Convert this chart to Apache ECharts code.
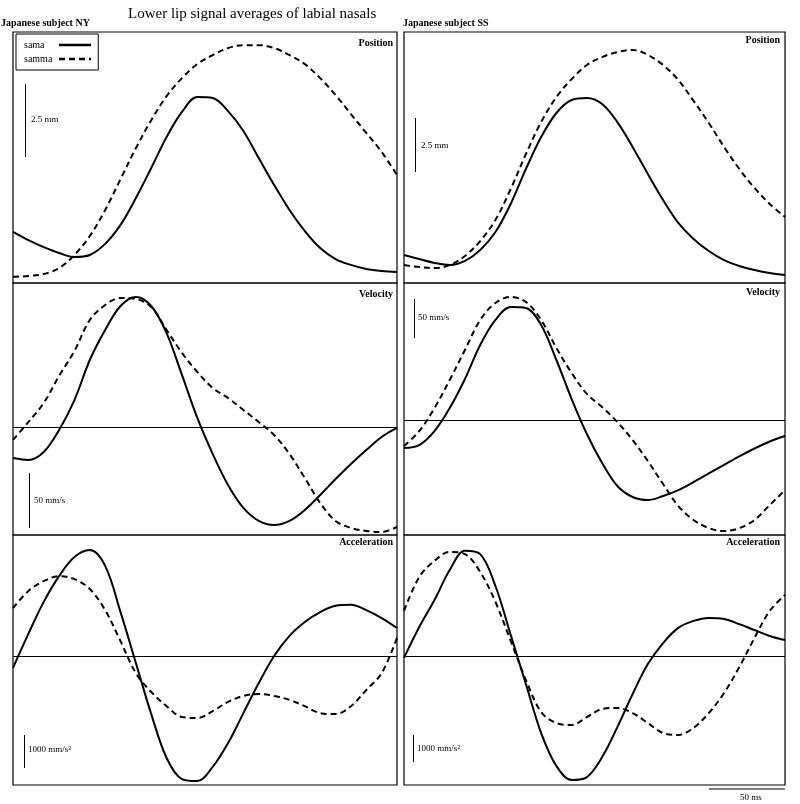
<!DOCTYPE html>
<html>
<head>
<meta charset="utf-8">
<script src="https://cdn.jsdelivr.net/npm/echarts@6/dist/echarts.min.js"></script>
<style>html,body{margin:0;padding:0;background:#fff}#c{width:800px;height:804px}</style>
</head>
<body>
<div id="c"></div>
<script>
// time in ms
const T = [0,10,20,30,40,50,60,70,80,90,100,110,120,130,140,150,160,170,180,190,200,210,220,230,240,250];

// Subject NY
const nyPosSama  = [1.75,1.47,1.23,1.03,0.89,0.96,1.34,1.99,2.91,3.94,5.0,5.86,6.37,6.34,5.89,5.21,4.28,3.36,2.5,1.78,1.2,0.82,0.62,0.48,0.41,0.38];
const nyPosSamma = [0.21,0.24,0.31,0.51,0.96,1.61,2.5,3.56,4.62,5.58,6.4,7.02,7.5,7.81,8.05,8.15,8.15,8.05,7.81,7.5,7.02,6.44,5.79,5.14,4.49,3.7];
const nyVelSama  = [-28.2,-30,-22.7,-2.7,24.5,60.9,88.2,110,118.2,110,85.4,47.3,8.2,-24.5,-52.7,-73.6,-85.4,-89.1,-85.4,-75.4,-61.8,-47.3,-33.6,-20.9,-9.1,-0.9];
const nyVelSamma = [-11.8,4.5,21.8,46.4,69.1,97.3,110.9,117.3,116.4,109.1,88.2,67.3,50,35.5,26.4,15.5,4.5,-7.3,-24.5,-46.4,-69.1,-85.4,-91.8,-94.5,-95.5,-90.9];
const nyAccSama  = [-360,670,1640,2420,3000,3210,2730,1330,-210,-1760,-3090,-3730,-3790,-3360,-2640,-1730,-820,0,610,1030,1330,1520,1550,1390,1150,850];
const nyAccSamma = [1450,1970,2270,2420,2330,2030,1390,450,-520,-1090,-1520,-1850,-1880,-1670,-1390,-1210,-1150,-1210,-1330,-1520,-1730,-1760,-1520,-1030,-520,550];

// Subject SS
const ssPosSama  = [1.3,1.11,0.93,0.83,1.02,1.53,2.36,3.66,5.28,6.76,7.87,8.47,8.56,8.29,7.45,6.3,5.05,3.84,2.78,2.04,1.48,1.06,0.79,0.6,0.46,0.37];
const ssPosSamma = [0.83,0.74,0.69,0.83,1.25,1.94,2.92,4.35,5.97,7.45,8.61,9.44,10.09,10.46,10.69,10.79,10.56,10.09,9.4,8.43,7.41,6.3,5.28,4.4,3.66,3.06];
const ssVelSama  = [-35.9,-32.1,-14.2,15.3,52.6,96.1,128.2,144.8,143.5,121.8,76.9,26.9,-17.9,-55.1,-84.6,-98.7,-102.6,-97.4,-89.8,-79.5,-68.5,-57.5,-46.5,-36.5,-27.5,-20.5];
const ssVelSamma = [-33.4,-14.2,15.3,51.3,89.8,128.2,150,157.7,151.3,128.2,92.3,60.3,33.4,16.6,-2.6,-25.6,-52.6,-82.1,-110.3,-128.2,-138.5,-142.4,-138.5,-128.2,-109,-89.8];
const ssAccSama  = [-70,1070,2070,3180,3890,3770,2590,780,-1040,-2850,-4070,-4590,-4480,-3740,-2630,-1410,-300,480,1040,1300,1410,1370,1180,960,740,590];
const ssAccSamma = [1670,2920,3520,3850,3770,3110,2000,560,-890,-2070,-2480,-2550,-2260,-1960,-1920,-2110,-2480,-2850,-2920,-2660,-2110,-1370,-410,670,1670,2260];

// scale bar units
const posUnit = 2.5, velUnit = 50, accUnit = 1000, timeUnit = 50;
const seriesNames = ['sama','samma'];

const FONT = '"Liberation Serif", "DejaVu Serif", serif';
const pair = a => T.map((t,i)=>[t,a[i]]);

const grids = [
  {left:13, top:32, width:384, height:251},
  {left:13, top:283, width:384, height:252},
  {left:13, top:535, width:384, height:250},
  {left:404, top:32, width:381, height:251},
  {left:404, top:283, width:381, height:252},
  {left:404, top:535, width:381, height:250}
];
const yRanges = [
  [0, 8.6], [-98.2, 130.9], [-3909, 3667],
  [0, 11.62], [-147.4, 175.6], [-4773, 4477]
];
const sets = [
  [nyPosSama, nyPosSamma], [nyVelSama, nyVelSamma], [nyAccSama, nyAccSamma],
  [ssPosSama, ssPosSamma], [ssVelSama, ssVelSamma], [ssAccSama, ssAccSamma]
];
// scale bar placement: [x (ms), y start, unit]
const bars = [
  [7.8, 4.32, posUnit], [10.4, -91.8, velUnit], [7.2, -3394, accUnit],
  [7.2, 5.14, posUnit], [6.6, 105.1, velUnit], [5.9, -3922, accUnit]
];

const series = [];
sets.forEach((s, g) => {
  seriesNames.forEach((nm, k) => {
    const ser = {
      name: nm, type: 'line', xAxisIndex: g, yAxisIndex: g,
      data: pair(s[k]), smooth: 0.35, symbol: 'none', showSymbol: false, silent: true,
      lineStyle: {color: '#000', width: 2, type: k ? [6,4] : 'solid'},
      itemStyle: {color: '#000'}, animation: false
    };
    if (k === 0) {
      const b = bars[g];
      const ml = [[{coord:[b[0], b[1]]},{coord:[b[0], b[1]+b[2]]}]];
      if (g % 3 !== 0) ml.push([{coord:[0,0]},{coord:[250,0]}]);
      ser.markLine = {
        silent: true, symbol: 'none', animation: false,
        lineStyle: {color:'#000', width: 1, type:'solid'},
        label: {show:false},
        data: ml
      };
    }
    series.push(ser);
  });
});

const txt = (o, s) => Object.assign({type:'text', style:Object.assign({fill:'#000'}, s)}, o);
const graphic = [
  txt({left:128, top:7}, {text:'Lower lip signal averages of labial nasals', font:'15px '+FONT}),
  txt({left:1, top:18}, {text:'Japanese subject NY', font:'bold 10px '+FONT}),
  txt({left:403, top:18}, {text:'Japanese subject SS', font:'bold 10px '+FONT}),
  txt({right:407, top:38}, {text:'Position', font:'bold 10px '+FONT}),
  txt({right:407, top:289}, {text:'Velocity', font:'bold 10px '+FONT}),
  txt({right:407, top:537}, {text:'Acceleration', font:'bold 10px '+FONT}),
  txt({right:20, top:35}, {text:'Position', font:'bold 10px '+FONT}),
  txt({right:20, top:287}, {text:'Velocity', font:'bold 10px '+FONT}),
  txt({right:20, top:537}, {text:'Acceleration', font:'bold 10px '+FONT}),
  txt({left:31, top:115}, {text:'2.5 mm', font:'9px '+FONT}),
  txt({left:421, top:141}, {text:'2.5 mm', font:'9px '+FONT}),
  txt({left:34, top:496}, {text:'50 mm/s', font:'9px '+FONT}),
  txt({left:418, top:313}, {text:'50 mm/s', font:'9px '+FONT}),
  txt({left:28, top:745}, {text:'1000 mm/s²', font:'9px '+FONT}),
  txt({left:417, top:744}, {text:'1000 mm/s²', font:'9px '+FONT}),
  txt({left:740, top:793}, {text:timeUnit+' ms', font:'9px '+FONT})
];

const chart = echarts.init(document.getElementById('c'), null, {renderer:'canvas'});
chart.setOption({
  animation: false,
  backgroundColor: '#fff',
  grid: grids.map(g => Object.assign({show:true, borderColor:'#000', borderWidth:1.2, backgroundColor:'transparent'}, g)),
  xAxis: grids.map((g,i) => ({type:'value', gridIndex:i, min:0, max:250, show:false})),
  yAxis: grids.map((g,i) => ({type:'value', gridIndex:i, min:yRanges[i][0], max:yRanges[i][1], show:false})),
  legend: {
    data: seriesNames, left: 16, top: 34, orient: 'vertical', align: 'right',
    borderColor: '#000', borderWidth: 1, padding: [6, 6, 6, 8], itemGap: 4,
    itemWidth: 32, itemHeight: 10, selectedMode: false,
    itemStyle: {opacity: 0},
    lineStyle: {width: 2.5},
    formatter: '{n|{name}}',
    textStyle: {fontFamily: FONT, fontSize: 10, color: '#000',
      rich: {n: {width: 30, align: 'left', fontFamily: FONT, fontSize: 10, color: '#000'}}}
  },
  series: series,
  graphic: graphic
});
// 50 ms time scale bar under the SS acceleration panel
const p0 = chart.convertToPixel({gridIndex:5}, [250 - timeUnit, 0]);
const p1 = chart.convertToPixel({gridIndex:5}, [250, 0]);
chart.setOption({graphic: graphic.concat([{type:'line', shape:{x1:p0[0], y1:789, x2:p1[0], y2:789}, style:{stroke:'#000', lineWidth:1.2}}])});
</script>
</body>
</html>
